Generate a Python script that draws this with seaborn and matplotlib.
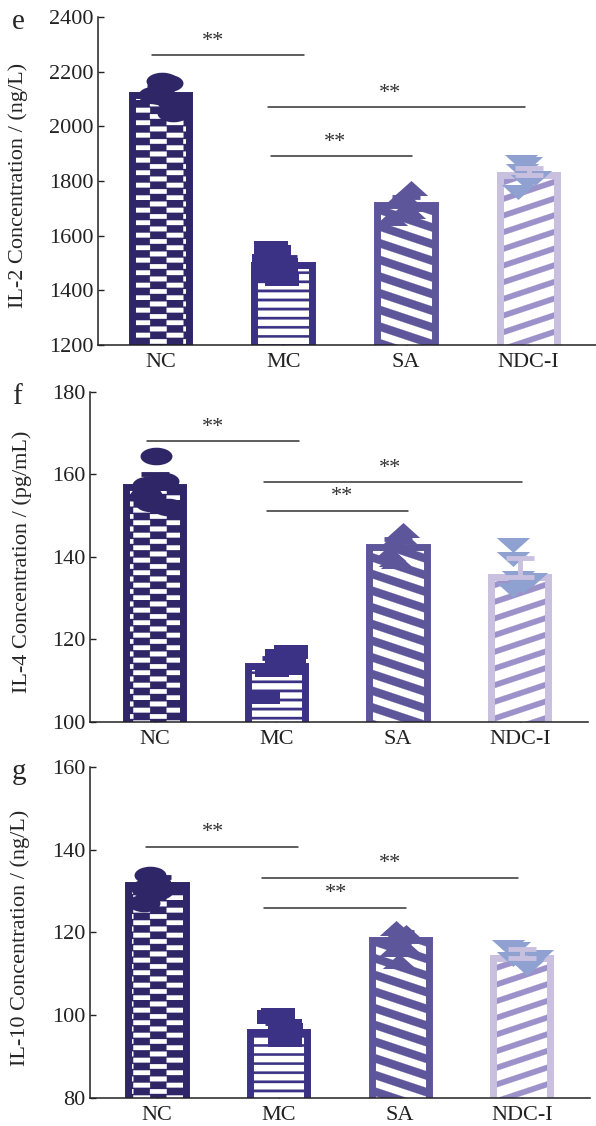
import numpy as np
import pandas as pd
import matplotlib
matplotlib.use("Agg")
import matplotlib.pyplot as plt
import matplotlib.hatch as mhatch
from matplotlib.path import Path
from matplotlib.colors import to_rgba
import seaborn as sns

groups = ["NC", "MC", "SA", "NDC-I"]

# e: IL-2 (ng/L)
il2_mean = [2115, 1492, 1712, 1822]
il2_err = [30, 30, 30, 25]
il2_pts = [
    [2165, 2160, 2115, 2110, 2090, 2050],
    [1555, 1540, 1507, 1493, 1456, 1440],
    [1775, 1735, 1715, 1690, 1665, 1690],
    [1870, 1862, 1835, 1810, 1795, 1760],
]
il2_sig = [(-0.07, 1.17, 2261, 0.43), (0.88, 2.97, 2071, 1.87), (0.90, 2.05, 1891, 1.42)]

# f: IL-4 (pg/mL)
il4_mean = [157, 113.5, 142.4, 135.2]
il4_err = [3, 2, 2, 4.6]
il4_pts = [
    [164.5, 158.5, 157.5, 155, 153, 152],
    [117, 116, 114.5, 113, 112.5, 106],
    [146.5, 145, 143.5, 141, 139.5, 139],
    [143, 139.5, 135, 134.5, 133, 132],
]
il4_sig = [(-0.06, 1.19, 168.1, 0.48), (0.90, 3.02, 158.2, 1.93), (0.92, 2.08, 151.2, 1.54)]

# g: IL-10 (ng/L)
il10_mean = [131.5, 96, 118.2, 113.9]
il10_err = [2, 2, 2, 2]
il10_pts = [
    [134, 132, 131, 130.5, 130, 127],
    [100, 99.5, 97.5, 96.5, 95, 94],
    [121, 120, 119, 117, 116, 113],
    [116.5, 116, 114, 113.5, 112, 111.5],
]
il10_sig = [(-0.09, 1.16, 140.7, 0.46), (0.86, 2.97, 133.2, 1.92), (0.88, 2.05, 126.0, 1.47)]

bar_face = ["#2e2666", "white", "white", "white"]
bar_edge = ["#2e2666", "#3b3185", "#5e569b", "#c9c0e0"]
hatch_col = ["white", "#3b3185", "#5e569b", "#9d91ca"]
hatches = ["o", "-", "\\", "/"]
marker_col = ["#2e2666", "#3b3185", "#5e569b", "#8fa1d0"]


# --- hatch patterns drawn as filled polygons (checker, thin lines, shallow stripes)
def _rect(x0, y0, x1, y1):
    return [(x0, y0), (x1, y0), (x1, y1), (x0, y1)]


class PolyHatch(mhatch.HatchPatternBase):
    key = ""

    def __init__(self, hatch, density):
        self.polys = self.build() if (hatch and self.key in hatch) else []
        self.num_vertices = 5 * len(self.polys)

    def build(self):
        return []

    def set_vertices_and_codes(self, vertices, codes):
        for i, poly in enumerate(self.polys):
            vertices[5 * i:5 * i + 4] = poly
            vertices[5 * i + 4] = poly[0]
            codes[5 * i] = Path.MOVETO
            codes[5 * i + 1:5 * i + 4] = Path.LINETO
            codes[5 * i + 4] = Path.CLOSEPOLY


class CheckerHatch(PolyHatch):
    key = "o"

    def build(self):
        rows, h = 16, 0.046
        polys = []
        for i in range(rows):
            for j in range(3):
                x0 = j / 3 + (i % 2) / 6
                polys.append(_rect(x0, i / rows, x0 + 1 / 6, i / rows + h))
        return polys


class LineHatch(PolyHatch):
    key = "-"

    def build(self):
        n, t = 11, 0.024
        return [_rect(-0.05, k / n - t / 2, 1.05, k / n + t / 2) for k in range(n + 1)]


class SlantHatch(PolyHatch):
    key, rise, thick = "/", 1 / 3, 0.058

    def build(self):
        n, t = 6, self.thick
        polys = []
        for k in range(-4, n + 4):
            c = k / n
            ya, yb = c - 0.05 * self.rise, c + 1.05 * self.rise
            polys.append([(-0.05, ya - t / 2), (1.05, yb - t / 2),
                          (1.05, yb + t / 2), (-0.05, ya + t / 2)])
        return polys


class BackSlantHatch(SlantHatch):
    key, rise, thick = "\\", -1 / 3, 0.085


mhatch._hatch_types[:] = [LineHatch, CheckerHatch, SlantHatch, BackSlantHatch]


def set_hatch_color(patch, color):
    if hasattr(patch, "set_hatchcolor"):
        patch.set_hatchcolor(color)
    else:
        patch._hatch_color = to_rgba(color)


# --- squashed markers (the original figure was stretched sideways)
def poly_marker(verts):
    verts = np.asarray(verts + [verts[0]], float)
    codes = [Path.MOVETO] + [Path.LINETO] * (len(verts) - 2) + [Path.CLOSEPOLY]
    return Path(verts, codes)


ellipse = Path(Path.unit_circle().vertices * [1.0, 0.55], Path.unit_circle().codes)
rect_mk = poly_marker([(-1, -0.4), (1, -0.4), (1, 0.4), (-1, 0.4)])
tri_up = poly_marker([(-1, -0.45), (1, -0.45), (0, 0.45)])
tri_down = poly_marker([(-1, 0.45), (1, 0.45), (0, -0.45)])
markers = [ellipse, rect_mk, tri_up, tri_down]
marker_size = [23, 25, 24, 24]

sns.set_style("ticks")
plt.rcParams["font.family"] = ["Liberation Serif", "DejaVu Serif"]
plt.rcParams["hatch.linewidth"] = 0.2
np.random.seed(3)

fig = plt.figure(figsize=(5.96, 11.26), dpi=100)

panels = [
    ("e", "IL-2 Concentration / (ng/L)", il2_mean, il2_err, il2_pts, il2_sig,
     (1200, 2400), np.arange(1200, 2401, 200), [0.1644, 0.6936, 0.8356, 0.2913], (-0.51, 3.55), -0.14),
    ("f", "IL-4 Concentration / (pg/mL)", il4_mean, il4_err, il4_pts, il4_sig,
     (100, 180), np.arange(100, 181, 20), [0.151, 0.3588, 0.8356, 0.2931], (-0.53, 3.56), -0.116),
    ("g", "IL-10 Concentration / (ng/L)", il10_mean, il10_err, il10_pts, il10_sig,
     (80, 160), np.arange(80, 161, 20), [0.151, 0.0249, 0.839, 0.294], (-0.55, 3.56), -0.12),
]

for letter, ylabel, means, errs, pts, sig, ylim, yticks, rect, xlim, ylab_x in panels:
    ax = fig.add_axes(rect)
    df_mean = pd.DataFrame({"group": groups, "value": means})
    sns.barplot(data=df_mean, x="group", y="value", order=groups, width=0.47,
                errorbar=None, ax=ax)
    for i, p in enumerate(ax.patches[:4]):
        p.set_facecolor(bar_face[i])
        p.set_edgecolor(bar_edge[i])
        p.set_linewidth(5)
        p.set_hatch(hatches[i])
        set_hatch_color(p, hatch_col[i])
        p.set_zorder(1)

    for i, g in enumerate(groups):
        sub = pd.DataFrame({"group": g, "value": pts[i]})
        sns.stripplot(data=sub, x="group", y="value", order=groups, color=marker_col[i],
                      marker=markers[i], size=marker_size[i], jitter=0.13, linewidth=0,
                      ax=ax, zorder=3)
        ax.errorbar(i, means[i], yerr=[[0], [errs[i]]], fmt="none", ecolor=bar_edge[i],
                    elinewidth=3.5, capsize=10, capthick=3.5, zorder=4)

    for x0, x1, y, xs in sig:
        ax.plot([x0, x1], [y, y], color="#333333", lw=1.1, zorder=5)
        ax.annotate("**", (xs, y), xytext=(0, 10), textcoords="offset points",
                    ha="center", va="center", fontsize=16, color="#333333")

    ax.set_xlim(*xlim)
    ax.set_ylim(*ylim)
    ax.set_yticks(yticks)
    ax.set_xlabel("")
    ax.set_ylabel(ylabel, fontsize=16)
    ax.yaxis.set_label_coords(ylab_x, 0.485)
    ax.tick_params(axis="both", direction="in", length=4, width=1, labelsize=16, colors="#222222")
    ax.tick_params(axis="x", pad=6)
    for s in ("left", "bottom"):
        ax.spines[s].set_linewidth(1.1)
        ax.spines[s].set_color("#222222")
    sns.despine(ax=ax)
    top_px = (1 - rect[1] - rect[3]) * 1126
    fig.text(12 / 596, 1 - (top_px + 12) / 1126, letter, fontsize=21, ha="left", va="baseline")

fig.savefig("out.png", dpi=100)
